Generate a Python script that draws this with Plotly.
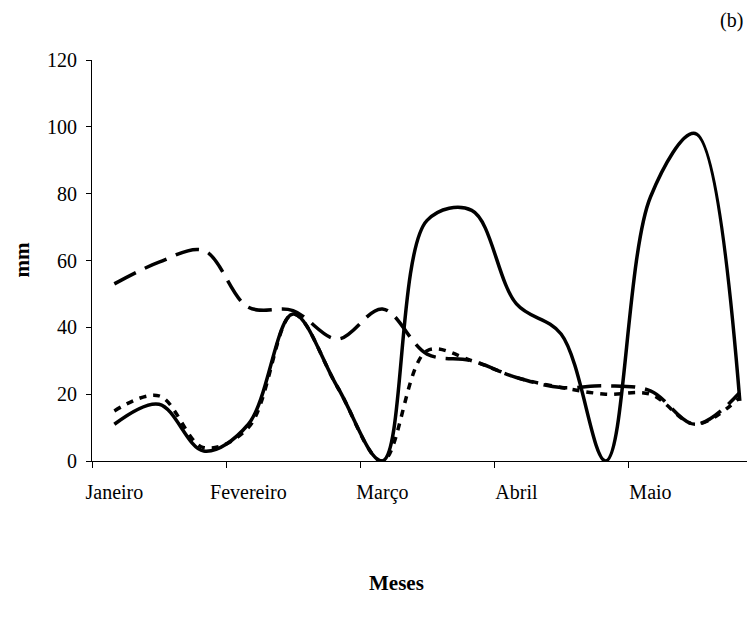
import plotly.graph_objects as go

# 15 ten-day periods (dekads), January to May
periods = list(range(1, 16))
month_labels = ["Janeiro", "Fevereiro", "Março", "Abril", "Maio"]
label_positions = [1, 4, 7, 10, 13]
month_bounds = [0.5, 3.5, 6.5, 9.5, 12.5, 15.5]
y_ticks = [0, 20, 40, 60, 80, 100, 120]

serie_solid = [11, 17, 3, 11, 44, 22, 0, 72, 75, 47, 38, 0, 79, 98, 18]
serie_longdash = [53, 59.5, 63, 46, 45, 36.5, 45.5, 32, 30, 25, 22, 22.5, 21, 11, 20.5]
serie_shortdash = [15, 19.5, 4, 10, 44, 22, 0, 33, 30, 25, 22, 20, 20, 11, 19]

FONT = "Liberation Serif, Times New Roman, serif"

fig = go.Figure()
fig.add_trace(go.Scatter(x=periods, y=serie_longdash, mode="lines",
                         line=dict(color="black", width=3.5, shape="spline", dash="24px,10px"),
                         name="Série 2"))
fig.add_trace(go.Scatter(x=periods, y=serie_shortdash, mode="lines",
                         line=dict(color="black", width=3.5, shape="spline", dash="7px,7px"),
                         name="Série 3"))
fig.add_trace(go.Scatter(x=periods, y=serie_solid, mode="lines",
                         line=dict(color="black", width=3.5, shape="spline"),
                         name="Série 1"))
# invisible trace on overlay axis for month boundary ticks
fig.add_trace(go.Scatter(x=[month_bounds[0]], y=[0], xaxis="x2", mode="markers",
                         marker=dict(opacity=0), showlegend=False, hoverinfo="skip"))

xr = [0.5, 15.34]
fig.update_layout(
    width=747, height=616,
    margin=dict(l=84, r=0, t=52, b=163),
    paper_bgcolor="white", plot_bgcolor="white",
    showlegend=False,
    font=dict(family=FONT, size=20, color="black"),
    xaxis=dict(range=xr, tickmode="array", tickvals=label_positions, ticktext=month_labels,
               ticks="", showline=True, linecolor="black", linewidth=1, automargin=False,
               showgrid=False, zeroline=False, ticklabelstandoff=13,
               tickfont=dict(family=FONT, size=20)),
    xaxis2=dict(range=xr, overlaying="x", side="bottom", tickmode="array", automargin=False,
                tickvals=month_bounds, ticks="outside", ticklen=6, tickcolor="black",
                showticklabels=False, showgrid=False, zeroline=False, showline=False),
    yaxis=dict(range=[0, 120], tickmode="array", tickvals=y_ticks, automargin=False,
               ticks="outside", ticklen=5, tickcolor="black",
               showline=True, linecolor="black", linewidth=1,
               showgrid=False, zeroline=False, ticklabelstandoff=5,
               tickfont=dict(family=FONT, size=20)),
    annotations=[
        dict(text="(b)", xref="paper", yref="paper", x=1.0, y=1.0, xshift=-10,
             xanchor="right", yanchor="middle", yshift=40, showarrow=False,
             font=dict(family=FONT, size=20)),
        dict(text="<b>Meses</b>", xref="paper", yref="paper", x=0.46, y=0,
             xanchor="center", yanchor="middle", yshift=-122, showarrow=False,
             font=dict(family=FONT, size=21)),
        dict(text="<b>mm</b>", xref="paper", yref="paper", x=0, y=0.5,
             xanchor="center", yanchor="middle", xshift=-71, textangle=-90, showarrow=False,
             font=dict(family=FONT, size=21)),
    ],
)

fig.write_html("out.html")
